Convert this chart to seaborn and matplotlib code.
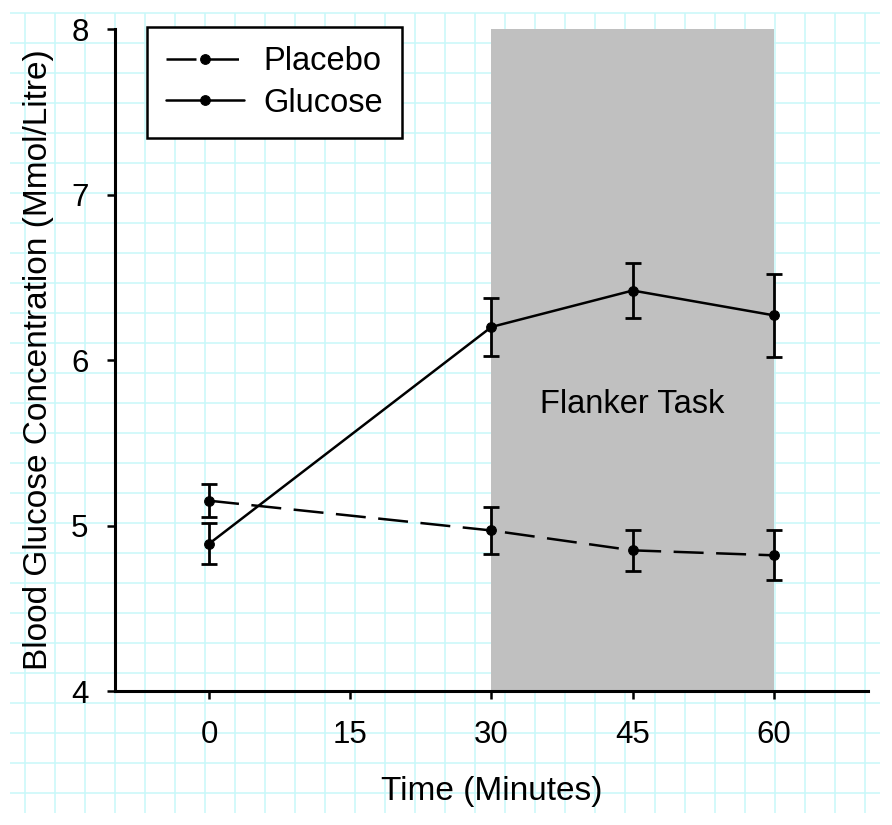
import pandas as pd
import matplotlib
matplotlib.use('Agg')
import matplotlib.pyplot as plt
import seaborn as sns

# Values
time_min = [0, 30, 45, 60]
groups = ['Placebo', 'Glucose']
placebo_mean = [5.15, 4.97, 4.85, 4.82]
placebo_se = [0.10, 0.14, 0.125, 0.15]
glucose_mean = [4.89, 6.20, 6.42, 6.27]
glucose_se = [0.125, 0.175, 0.165, 0.25]
x_ticks = [0, 15, 30, 45, 60]
y_ticks = [4, 5, 6, 7, 8]
task_window = (30, 60)

# Long-form table for seaborn
data = pd.DataFrame({
    'time': time_min * 2,
    'value': placebo_mean + glucose_mean,
    'se': placebo_se + glucose_se,
    'group': ['Placebo'] * len(time_min) + ['Glucose'] * len(time_min),
})

sns.set_style('ticks')
plt.rcParams['font.family'] = ['Liberation Sans', 'DejaVu Sans']
plt.rcParams['text.color'] = 'black'
plt.rcParams['axes.labelcolor'] = 'black'

GRID_CYAN = '#c8f8f9'
SHADE = '#c0c0c0'

fig = plt.figure(figsize=(8.92, 8.25), dpi=100)

# graph-paper background over the whole figure
bg = fig.add_axes([0, 0, 1, 1])
bg.set_xlim(0, 892)
bg.set_ylim(825, 0)
bg.axis('off')
bg.vlines(range(25, 866, 30), 13, 813, color=GRID_CYAN, lw=1.1)
bg.hlines(range(13, 794, 30), 10, 880, color=GRID_CYAN, lw=1.1)
bg.set_zorder(0)

ax = fig.add_axes([0.1289, 0.1624, 0.8442, 0.8024])
ax.set_zorder(1)
ax.set_facecolor('none')

ax.axvspan(*task_window, color=SHADE, lw=0, zorder=0)

styles = {'Placebo': (0, (12, 5)), 'Glucose': '-'}
handles = []
for g in groups:
    sub = data[data['group'] == g]
    sns.lineplot(
        x=sub['time'], y=sub['value'],
        color='black', linestyle=styles[g], lw=1.8,
        marker='o', markersize=7,
        markeredgecolor='black', markerfacecolor='black',
        label=g, ax=ax, legend=False, zorder=3
    )
    handles.append(ax.lines[-1])
    ax.errorbar(
        sub['time'], sub['value'], yerr=sub['se'],
        fmt='none', ecolor='black', elinewidth=2.0,
        capsize=6, capthick=2.0, zorder=3
    )

ax.text(45, 5.68, 'Flanker Task', ha='center', va='baseline',
        fontsize=23.5, color='black')

ax.set_xlim(-10, 70)
ax.set_ylim(4, 8)
ax.set_xticks(x_ticks)
ax.set_yticks(y_ticks)

sns.despine(ax=ax)
for s in ['left', 'bottom']:
    ax.spines[s].set_linewidth(2.2)
    ax.spines[s].set_color('black')

ax.tick_params(axis='both', direction='out', length=6, width=1.8,
               colors='black', labelsize=22.5)
ax.tick_params(axis='x', pad=15)
ax.tick_params(axis='y', pad=13)

ax.set_xlabel('Time (Minutes)', fontsize=24, color='black')
ax.set_ylabel('Blood Glucose Concentration (Mmol/Litre)', fontsize=24,
              color='black')
ax.xaxis.set_label_coords(0.5, -0.128)
ax.yaxis.set_label_coords(-0.081, 0.5)

leg = ax.legend(
    handles=handles, labels=groups,
    loc='upper left', bbox_to_anchor=(147 / 892, 1 - 27 / 825),
    bbox_transform=fig.transFigure, borderaxespad=0,
    fontsize=23.5, frameon=True, fancybox=False,
    edgecolor='black', facecolor='white', framealpha=1,
    handlelength=2.4, handletextpad=0.6, labelspacing=0.33,
    borderpad=0.58
)
leg.get_frame().set_linewidth(1.8)
for t in leg.get_texts():
    t.set_color('black')

fig.savefig('out.png', dpi=100)
